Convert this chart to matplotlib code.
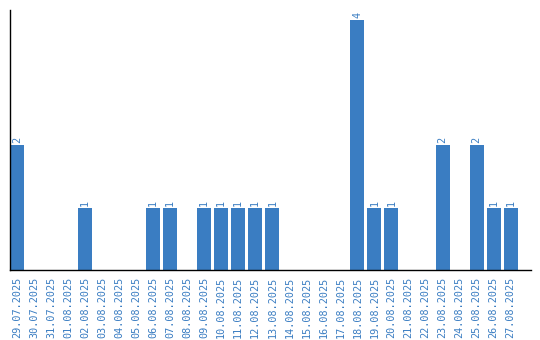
import matplotlib
matplotlib.use("Agg")
import matplotlib.pyplot as plt

# Data
dates = ["29.07.2025", "30.07.2025", "31.07.2025", "01.08.2025", "02.08.2025",
         "03.08.2025", "04.08.2025", "05.08.2025", "06.08.2025", "07.08.2025",
         "08.08.2025", "09.08.2025", "10.08.2025", "11.08.2025", "12.08.2025",
         "13.08.2025", "14.08.2025", "15.08.2025", "16.08.2025", "17.08.2025",
         "18.08.2025", "19.08.2025", "20.08.2025", "21.08.2025", "22.08.2025",
         "23.08.2025", "24.08.2025", "25.08.2025", "26.08.2025", "27.08.2025"]
counts = [2, 0, 0, 0, 1, 0, 0, 0, 1, 1,
          0, 1, 1, 1, 1, 1, 0, 0, 0, 0,
          4, 1, 1, 0, 0, 2, 0, 2, 1, 1]

blue = "#3a7dc2"

fig = plt.figure(figsize=(5.4, 3.4), dpi=100)
ax = fig.add_axes([10 / 540, 70 / 340, 520.7 / 540, 260 / 340])

x = list(range(len(dates)))
ax.bar(x, counts, width=0.82, color=blue)

# value labels above non-empty bars
for xi, c in zip(x, counts):
    if c > 0:
        ax.text(xi, c + 0.03, str(c), rotation=90, ha="center", va="bottom",
                color=blue, fontsize=7.3, family="DejaVu Sans Mono")

ax.set_xlim(-0.41, 30.18)
ax.set_ylim(0, 4.16)
ax.set_xticks(x)
ax.set_xticklabels(dates, rotation=90, color=blue, fontsize=7.3,
                   family="DejaVu Sans Mono")
ax.tick_params(axis="x", length=0, pad=5)
ax.set_yticks([])

for side in ["top", "right"]:
    ax.spines[side].set_visible(False)
ax.spines["left"].set_linewidth(1)
ax.spines["bottom"].set_linewidth(1)

fig.savefig("out.png", dpi=100)
